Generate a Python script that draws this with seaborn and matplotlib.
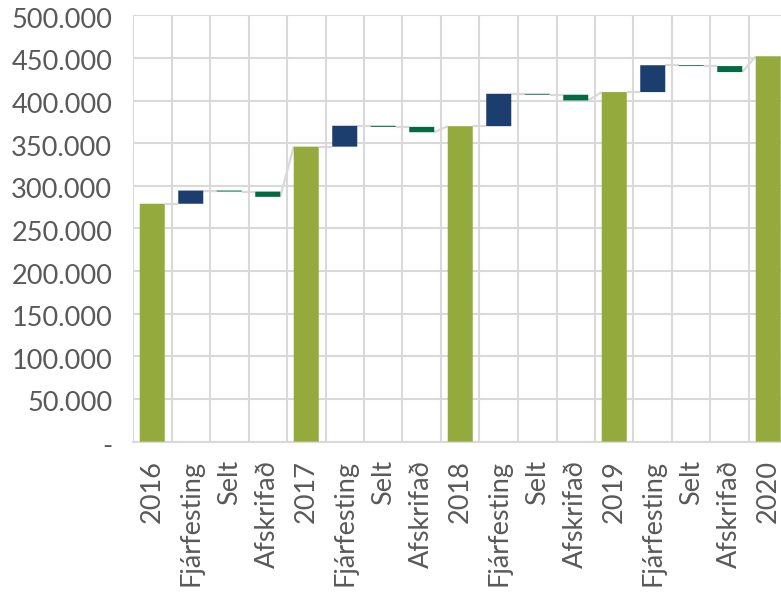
import numpy as np
import pandas as pd
import matplotlib
matplotlib.use("Agg")
import matplotlib.pyplot as plt
import seaborn as sns
from matplotlib.transforms import ScaledTranslation

# ---- data ----
years = ["2016", "2017", "2018", "2019", "2020"]
year_values = [279000, 346000, 370000, 410000, 452000]
step_labels = ["Fjárfesting", "Selt", "Afskrifað"]
fjarfesting = [15500, 24500, 38000, 31500]
selt = [-1200, -1300, -1100, -1000]
afskrifad = [-6200, -6300, -6700, -7000]
y_ticks = [0, 50000, 100000, 150000, 200000, 250000, 300000, 350000, 400000, 450000, 500000]

colors_map = {"year": "#95aa3d", "Fjárfesting": "#1c3e6e", "Selt": "#006b41", "Afskrifað": "#006b41"}

# ---- build waterfall table ----
labels, kinds, starts, heights, begin_lv, end_lv = [], [], [], [], [], []
for i, yr in enumerate(years):
    labels.append(yr); kinds.append("year"); starts.append(0); heights.append(year_values[i])
    begin_lv.append(year_values[i]); end_lv.append(year_values[i])
    if i < len(fjarfesting):
        level = year_values[i]
        for name, arr in zip(step_labels, [fjarfesting, selt, afskrifad]):
            d = arr[i]
            labels.append(name); kinds.append(name); starts.append(level); heights.append(d)
            begin_lv.append(level); end_lv.append(level + d)
            level += d

df = pd.DataFrame({"key": [str(i) for i in range(len(labels))], "height": heights})

sns.set_theme(style="white")
plt.rcParams["font.family"] = ["Lato", "DejaVu Sans"]

fig = plt.figure(figsize=(7.81, 5.97), dpi=100)
ax = fig.add_axes([133 / 781, 1 - 441.6 / 597, (787.5 - 133) / 781, (441.6 - 15.35) / 597])

bar_w = 0.65
sns.barplot(data=df, x="key", y="height", bottom=starts, width=bar_w, color="#95aa3d",
            errorbar=None, ax=ax, zorder=3, linewidth=0, edgecolor="none")
for patch, k in zip(ax.patches, kinds):
    patch.set_facecolor(colors_map[k])
    patch.set_snap(False)

# connector lines between bars
for i in range(len(labels) - 1):
    ax.plot([i + bar_w / 2, i + 1 - bar_w / 2], [end_lv[i], begin_lv[i + 1]],
            color="#d9d9d9", lw=1.6, zorder=2, solid_capstyle="butt")

ax.set_xlim(-0.5, len(labels) - 0.5)
ax.set_ylim(0, 500000)
ax.set_xticks(range(len(labels)))
ax.set_xticklabels(labels, rotation=90)
ax.set_xticks(np.arange(-0.5, len(labels)), minor=True)
ax.set_yticks(y_ticks)
ax.set_yticklabels(["-" if v == 0 else f"{v:,.0f}".replace(",", ".") for v in y_ticks])

ax.set_axisbelow(True)
ax.grid(False)
ax.yaxis.grid(True, color="#d9d9d9", lw=1.5)
ax.xaxis.grid(True, which="minor", color="#d9d9d9", lw=1.5)
ax.xaxis.grid(False, which="major")
for s in ["top", "right", "left"]:
    ax.spines[s].set_visible(False)
ax.spines["bottom"].set_color("#d9d9d9")
ax.spines["bottom"].set_linewidth(1.5)

ax.tick_params(which="both", length=0)
ax.tick_params(axis="y", pad=15, labelsize=19.5, labelcolor="#595959")
ax.tick_params(axis="x", pad=13, labelsize=19.5, labelcolor="#595959")
for lab in ax.get_yticklabels():
    lab.set_transform(lab.get_transform() + ScaledTranslation(0, -2.5 / 100, fig.dpi_scale_trans))

ax.set_xlabel("")
ax.set_ylabel("")

fig.savefig("out.png", dpi=100)
